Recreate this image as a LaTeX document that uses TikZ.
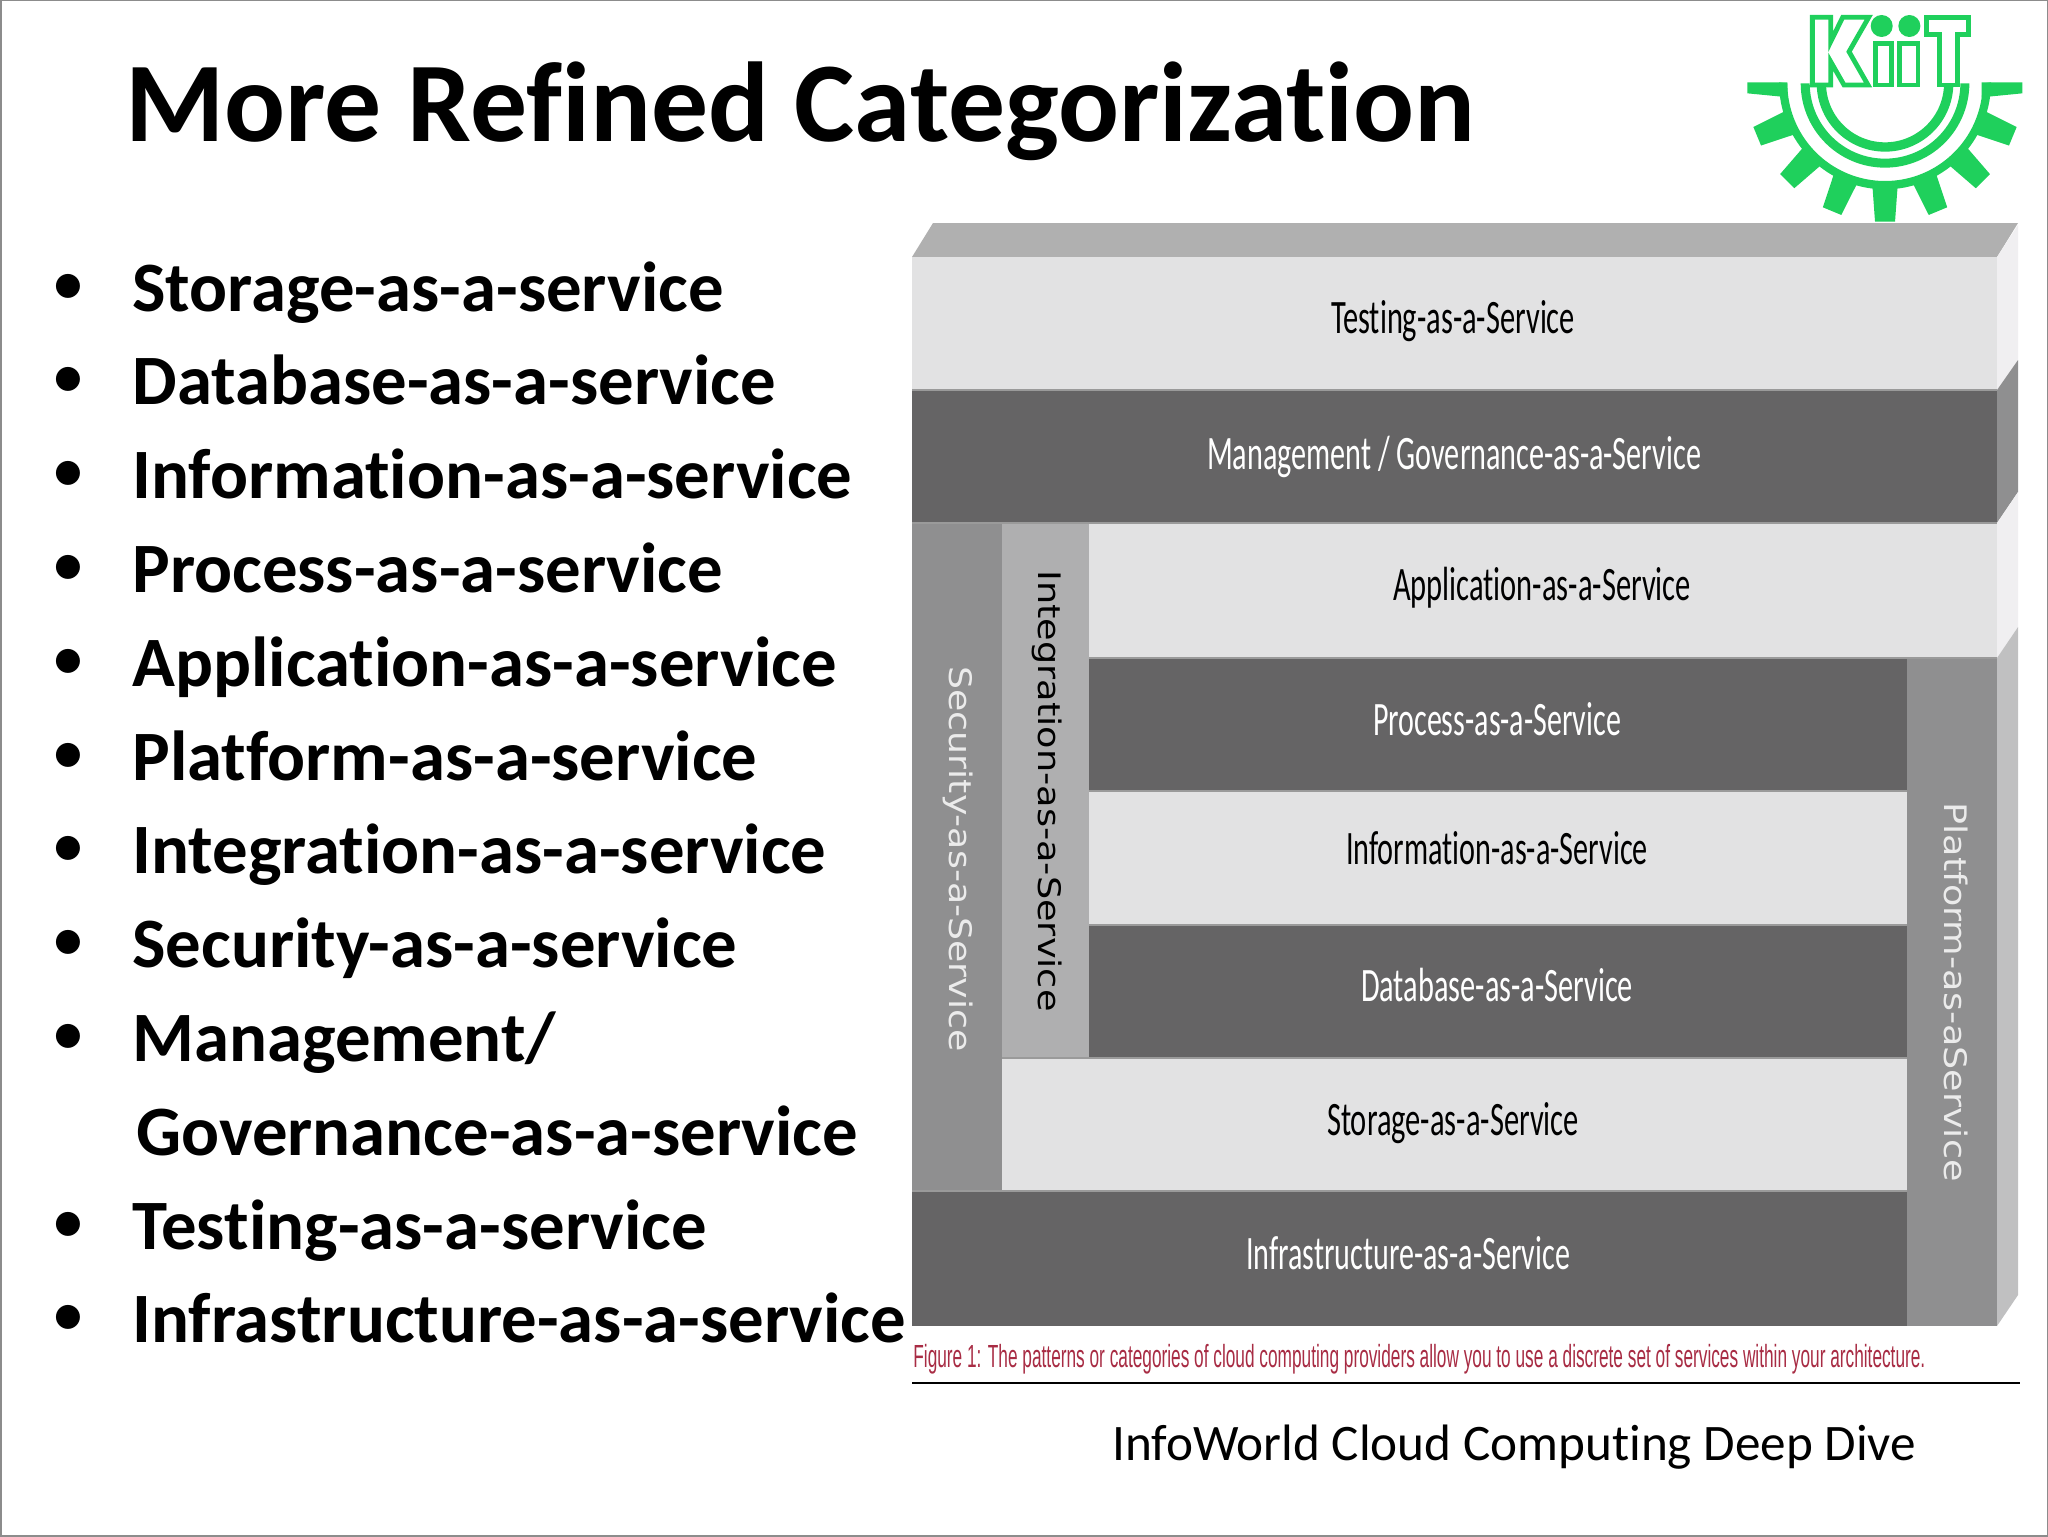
\documentclass[tikz,border=0pt]{standalone}
\usepackage{fontspec}
\setmainfont{Carlito}[Ligatures=CommonOff]
\newfontfamily\capfont{Liberation Sans}
\newfontfamily\vertfont{DejaVu Sans}
\newsavebox\fitbox
\newcommand\fitx[2]{\sbox\fitbox{#2}\pgfmathsetmacro\fitr{#1/\the\wd\fitbox}\scalebox{\fitr}[1]{\usebox\fitbox}}
\definecolor{dark}{HTML}{656465}
\definecolor{lite}{HTML}{E2E2E3}
\definecolor{secg}{HTML}{8F8F90}
\definecolor{intg}{HTML}{AFAFB0}
\definecolor{topg}{HTML}{B0B0B0}
\definecolor{sidel}{HTML}{F0EFF1}
\definecolor{sidem}{HTML}{8F8F90}
\definecolor{sidep}{HTML}{C0C0C1}
\definecolor{edgeg}{HTML}{9A9A9A}
\definecolor{kiit}{HTML}{1FD05C}
\definecolor{capred}{HTML}{A82C44}
\tikzset{
  titletext/.style={anchor=base west,inner sep=0pt,font=\fontsize{56.8}{60}\selectfont\bfseries},
  bullettext/.style={anchor=base west,inner sep=0pt,font=\fontsize{35.4}{46}\selectfont\bfseries},
  dottext/.style={anchor=base west,inner sep=0pt,font=\fontsize{34}{40}\selectfont},
  bandlabel/.style={inner sep=0pt,font=\fontsize{24}{28}\selectfont},
  vertlabel/.style={inner sep=0pt,rotate=-90,font=\fontsize{15.5}{18}\selectfont\vertfont},
}
\begin{document}
\begin{tikzpicture}[x=0.5pt,y=-0.5pt]
\useasboundingbox (0,0) rectangle (2048,1536);
\fill[white] (0,0) rectangle (2048,1536);
\draw[gray!90,line width=1pt] (0.5,0.5) rectangle (2047.5,1535.5);

% title
\node[titletext] (title) at (125,141) {More Refined Categorization};

% bullet list
\foreach \i/\t in {0/Storage-as-a-service,1/Database-as-a-service,2/Information-as-a-service,3/Process-as-a-service,4/Application-as-a-service,5/Platform-as-a-service,6/Integration-as-a-service,7/Security-as-a-service,8/{Management/},10/Testing-as-a-service,11/Infrastructure-as-a-service}{
  \node[bullettext] (b\i) at (132,{311+93.8*\i}) {\t};
  \node[dottext] (d\i) at (51,{305+93.8*\i}) {•};
}
\node[bullettext] (b9) at (136,{311+93.8*9}) {Governance-as-a-service};

% 3D faces
\fill[topg] (912,257) -- (933,223) -- (2018,223) -- (1997,257) -- cycle;
\fill[sidel] (1997,257) -- (2018,225) -- (2018,360) -- (1997,390) -- cycle;
\fill[sidem] (1997,390) -- (2018,360) -- (2018,492) -- (1997,523) -- cycle;
\fill[sidel] (1997,523) -- (2018,492) -- (2018,627) -- (1997,658) -- cycle;
\fill[sidep] (1997,658) -- (2018,627) -- (2018,1295) -- (1997,1326) -- cycle;

% bands
\fill[lite] (912,257) rectangle (1997,390);
\fill[dark] (912,390) rectangle (1997,523);
\fill[secg] (912,523) rectangle (1002,1191);
\fill[intg] (1002,523) rectangle (1089,1058);
\fill[lite] (1089,523) rectangle (1997,658);
\fill[dark] (1089,658) rectangle (1907,791);
\fill[lite] (1089,791) rectangle (1907,925);
\fill[dark] (1089,925) rectangle (1907,1058);
\fill[lite] (1002,1058) rectangle (1907,1191);
\fill[dark] (912,1191) rectangle (1907,1326);
\fill[secg] (1907,658) rectangle (1997,1326);
% thin band edges
\draw[edgeg,line width=1pt] (912,390) -- (1997,390) (912,523) -- (1997,523)
  (1089,658) -- (1997,658) (1089,791) -- (1907,791) (1089,925) -- (1907,925)
  (1002,1058) -- (1907,1058) (912,1191) -- (1907,1191);

% labels
\node[bandlabel,text=black] (l1) at (1453,321) {\fitx{122pt}{Testing-as-a-Service}};
\node[bandlabel,text=white] (l2) at (1454,457) {\fitx{247pt}{Management / Governance-as-a-Service}};
\node[bandlabel,text=black] (l3) at (1542,588) {\fitx{149pt}{Application-as-a-Service}};
\node[bandlabel,text=white] (l4) at (1497,719) {\fitx{124pt}{Process-as-a-Service}};
\node[bandlabel,text=black] (l5) at (1497,848) {\fitx{151pt}{Information-as-a-Service}};
\node[bandlabel,text=white] (l6) at (1497,985) {\fitx{136pt}{Database-as-a-Service}};
\node[bandlabel,text=black] (l7) at (1453,1123) {\fitx{126pt}{Storage-as-a-Service}};
\node[bandlabel,text=white] (l8) at (1408,1253) {\fitx{162pt}{Infrastructure-as-a-Service}};
\node[vertlabel,text=white!92!black] (v1) at (958,859) {\fitx{192.5pt}{Security-as-a-Service}};
\node[vertlabel,text=black] (v2) at (1047,791) {\fitx{220.5pt}{Integration-as-a-Service}};
\node[vertlabel,text=white!92!black] (v3) at (1956,992) {\fitx{189.5pt}{Platform-as-aService}};

% caption, rule and source
\node[anchor=base west,inner sep=0pt,text=capred,font=\fontsize{16}{19}\selectfont\capfont] (cap) at (913,1367) {\fitx{506pt}{Figure 1: The patterns or categories of cloud computing providers allow you to use a discrete set of services within your architecture.}};
\coordinate (ruleA) at (912,1383);
\coordinate (ruleB) at (2020,1383);
\draw[black,line width=1.2pt] (ruleA) -- (ruleB);
\node[anchor=base west,inner sep=0pt,font=\fontsize{25.6}{30}\selectfont] (src) at (1112,1460) {InfoWorld Cloud Computing Deep Dive};

% logo
\begin{scope}[shift={(1700,0)},x=0.16667pt,y=-0.16667pt]
  \def\cx{555}\def\cy{250}
  \fill[kiit] plot[domain=0:180,samples=80] ({\cx+318*cos(\x)},{\cy-3+321*sin(\x)})
     -- plot[domain=180:0,samples=80] ({\cx+293*cos(\x)},{\cy+293*sin(\x)}) -- cycle;
  \foreach \a in {22.5,45,67.5,90,112.5,135,157.5}{
    \fill[kiit] ({\cx+305*cos(\a)-38*sin(\a)},{\cy+305*sin(\a)+38*cos(\a)})
      -- ({\cx+415*cos(\a)-30*sin(\a)},{\cy+415*sin(\a)+30*cos(\a)})
      -- ({\cx+415*cos(\a)+30*sin(\a)},{\cy+415*sin(\a)-30*cos(\a)})
      -- ({\cx+305*cos(\a)+38*sin(\a)},{\cy+305*sin(\a)-38*cos(\a)}) -- cycle;
  }
  \fill[kiit] (142,247) -- (262,247) -- (262,292) -- (245,290) -- (142,280) -- cycle;
  \fill[kiit] (967,247) -- (845,247) -- (845,292) -- (865,290) -- (967,280) -- cycle;
  \fill[kiit] plot[domain=0:180,samples=60] ({\cx+253*cos(\x)},{\cy+253*sin(\x)})
     -- plot[domain=180:0,samples=60] ({\cx+226*cos(\x)},{\cy+226*sin(\x)}) -- cycle;
  \fill[kiit] plot[domain=0:180,samples=60] ({\cx+205*cos(\x)},{\cy+205*sin(\x)})
     -- plot[domain=180:0,samples=60] ({\cx+177*cos(\x)},{\cy+177*sin(\x)}) -- cycle;
  \begin{scope}[draw=kiit,fill=white,line width=2.4pt,line join=miter]
    \filldraw (337,52) -- (392,52) -- (392,125) -- (428,52) -- (506,52) -- (447,155) -- (504,255) -- (432,255) -- (392,185) -- (392,255) -- (337,255) -- cycle;
    \filldraw (527,130) rectangle (575,255);
    \filldraw (598,130) rectangle (654,255);
    \filldraw (679,52) -- (806,52) -- (806,103) -- (772,103) -- (772,255) -- (719,255) -- (719,103) -- (679,103) -- cycle;
  \end{scope}
  \fill[kiit] (545,78) circle[radius=33];
  \fill[kiit] (628,78) circle[radius=33];
\end{scope}
\end{tikzpicture}
\end{document}
